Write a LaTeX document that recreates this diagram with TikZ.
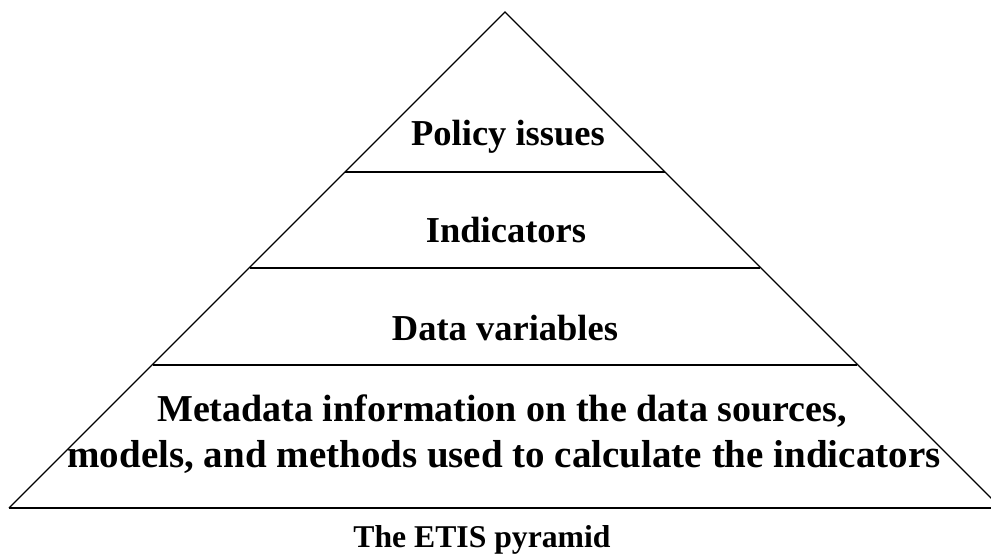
\documentclass[tikz,border=0pt]{standalone}
\usepackage{fontspec}
\setmainfont{Liberation Serif}
\begin{document}
\begin{tikzpicture}[x=1pt,y=-1pt,
  edge/.style={draw=black,line width=1.3pt},
  layer/.style={anchor=base,font=\bfseries\fontsize{36.5}{45}\selectfont,inner sep=0pt},
  metaone/.style={anchor=base,font=\bfseries\fontsize{38}{45}\selectfont,inner sep=0pt},
  metatwo/.style={anchor=base,font=\bfseries\fontsize{39}{45}\selectfont,inner sep=0pt},
  caption/.style={anchor=base,font=\bfseries\fontsize{31.7}{38}\selectfont,inner sep=0pt}]
  \useasboundingbox (0,0) rectangle (991,555);
  \clip (0,0) rectangle (991,555);
  % pyramid outline
  \coordinate (apex) at (505,12);
  \coordinate (bl) at (9,508);
  \coordinate (br) at (1001,508);
  \draw[edge] (bl) -- (apex) -- (br);
  \draw[edge] (bl) -- (br);
  % layer boundaries
  \coordinate (l1) at (345,172);  \coordinate (r1) at (665,172);
  \coordinate (l2) at (250,268);  \coordinate (r2) at (760,268);
  \coordinate (l3) at (153,365);  \coordinate (r3) at (857,365);
  \draw[edge] (l1) -- (r1);
  \draw[edge] (l2) -- (r2);
  \draw[edge] (l3) -- (r3);
  % layer labels
  \node[layer] (policy) at (508,145) {Policy issues};
  \node[layer] (ind) at (506,242) {Indicators};
  \node[layer] (data) at (505,340) {Data variables};
  \node[metaone] (meta1) at (502,421) {Metadata information on the data sources,};
  \node[metatwo] (meta2) at (504,467) {models, and methods used to calculate the indicators};
  % caption
  \node[caption] (cap) at (482,547) {The ETIS pyramid};
\end{tikzpicture}
\end{document}
